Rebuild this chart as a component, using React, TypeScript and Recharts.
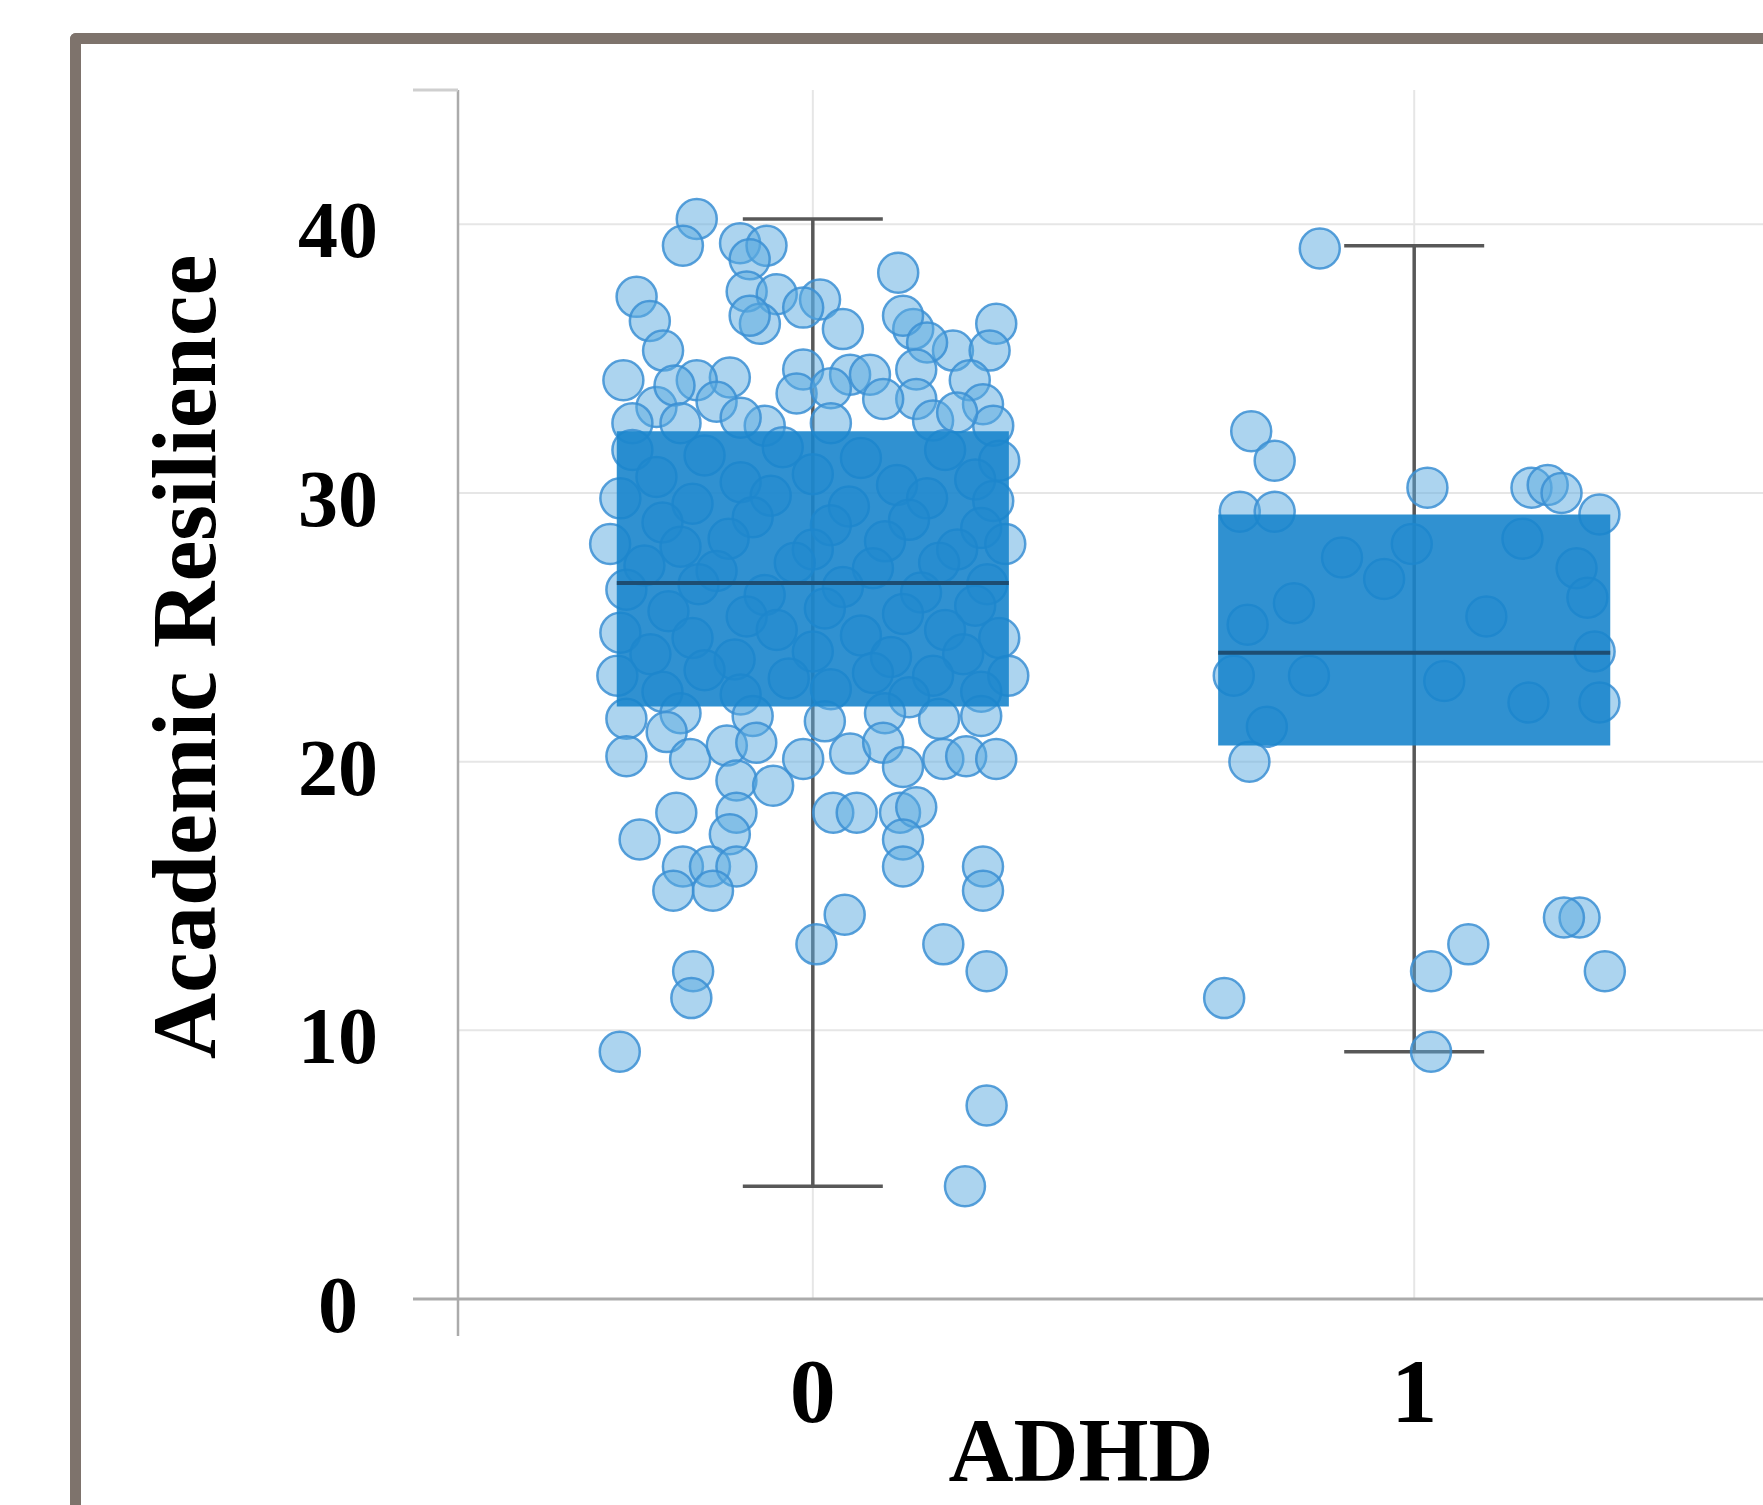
import { ComposedChart, Scatter, ErrorBar, XAxis, YAxis, CartesianGrid, Label, ReferenceArea } from "recharts";

// box statistics per ADHD group
const groups = [0, 1];
const q1 = [22.05, 20.6];
const median = [26.65, 24.05];
const q3 = [32.3, 29.2];
const whiskerLow = [4.2, 9.2];
const whiskerHigh = [40.2, 39.2];

const yTicks = [0, 10, 20, 30, 40, 45];
const xTicks = [-0.59, 0, 1];

// jittered points: [horizontal jitter, academic resilience]
const adhd0Upper = [
  [-0.193, 40.2], [-0.216, 39.2], [-0.121, 39.3], [-0.077, 39.2], [-0.105, 38.7], [0.142, 38.2],
  [-0.293, 37.3], [-0.11, 37.5], [-0.06, 37.4], [-0.088, 36.3], [-0.105, 36.6], [0.012, 37.2],
  [-0.016, 36.9], [0.05, 36.1], [-0.271, 36.4], [-0.249, 35.3], [0.167, 36.1], [0.15, 36.6],
  [0.305, 36.3], [0.233, 35.3], [0.294, 35.3], [0.19, 35.6], [-0.315, 34.2], [-0.138, 34.3],
  [-0.193, 34.2], [-0.016, 34.6], [0.062, 34.4], [0.095, 34.4], [0.172, 34.6], [0.261, 34.2],
  [-0.26, 33.2], [-0.16, 33.4], [-0.23, 34.0], [0.172, 33.5], [0.283, 33.3], [-0.027, 33.7],
  [0.117, 33.5], [0.03, 33.9], [-0.3, 32.6], [-0.22, 32.6], [-0.08, 32.5], [0.03, 32.6],
  [0.2, 32.7], [0.3, 32.5], [-0.12, 32.8], [0.24, 33.0],
];

const adhd0Inside = [
  [-0.3, 31.6], [-0.18, 31.4], [-0.05, 31.7], [0.08, 31.3], [0.22, 31.6], [0.31, 31.2],
  [-0.26, 30.6], [-0.12, 30.4], [0.0, 30.7], [0.14, 30.3], [0.27, 30.5],
  [-0.32, 29.8], [-0.2, 29.6], [-0.07, 29.9], [0.06, 29.5], [0.19, 29.8], [0.3, 29.7],
  [-0.25, 28.9], [-0.1, 29.1], [0.03, 28.8], [0.16, 29.0], [0.28, 28.7],
  [-0.337, 28.1], [-0.22, 28.0], [-0.14, 28.3], [0.0, 27.9], [0.12, 28.2], [0.24, 27.9], [0.32, 28.1],
  [-0.28, 27.3], [-0.16, 27.1], [-0.03, 27.4], [0.1, 27.2], [0.21, 27.4],
  [-0.31, 26.4], [-0.19, 26.6], [-0.08, 26.2], [0.05, 26.5], [0.18, 26.3], [0.29, 26.6],
  [-0.24, 25.6], [-0.11, 25.4], [0.02, 25.7], [0.15, 25.5], [0.27, 25.8],
  [-0.32, 24.8], [-0.2, 24.6], [-0.06, 24.9], [0.08, 24.7], [0.22, 24.9], [0.31, 24.6],
  [-0.27, 24.0], [-0.13, 23.8], [0.0, 24.1], [0.13, 23.9], [0.25, 24.0],
  [-0.325, 23.2], [-0.18, 23.4], [-0.04, 23.1], [0.1, 23.3], [0.2, 23.2], [0.325, 23.2],
  [-0.25, 22.6], [-0.12, 22.5], [0.03, 22.7], [0.16, 22.4], [0.28, 22.6],
];

const adhd0Lower = [
  [-0.31, 21.6], [-0.22, 21.8], [-0.1, 21.7], [0.02, 21.5], [0.12, 21.8], [0.21, 21.6], [0.28, 21.7],
  [-0.31, 20.2], [-0.243, 21.1], [-0.204, 20.1], [-0.143, 20.6], [-0.127, 19.3], [-0.066, 19.1],
  [-0.094, 20.7], [-0.016, 20.1], [0.062, 20.3], [0.117, 20.7], [0.217, 20.1], [0.255, 20.2],
  [0.305, 20.1], [0.15, 19.8], [-0.227, 18.1], [-0.288, 17.1], [-0.127, 18.1], [-0.138, 17.3],
  [-0.216, 16.1], [-0.171, 16.1], [-0.127, 16.1], [-0.232, 15.2], [-0.166, 15.2],
  [0.034, 18.1], [0.073, 18.1], [0.145, 18.1], [0.172, 18.3], [0.15, 17.1], [0.15, 16.1],
  [0.283, 16.1], [0.283, 15.2], [0.053, 14.3], [0.006, 13.2], [0.217, 13.2], [0.289, 12.2],
  [-0.199, 12.2], [-0.202, 11.2], [-0.321, 9.2], [0.289, 7.2], [0.253, 4.2],
];

const adhd1Points = [
  [-0.157, 39.1], [-0.271, 32.3], [-0.232, 31.2], [0.022, 30.2], [0.195, 30.2], [0.222, 30.3],
  [0.245, 30.0], [0.308, 29.2], [-0.29, 29.3], [-0.232, 29.3], [-0.004, 28.1], [0.18, 28.3],
  [-0.12, 27.6], [0.27, 27.2], [-0.05, 26.8], [0.288, 26.1], [-0.2, 25.9], [0.12, 25.4],
  [-0.277, 25.1], [0.3, 24.1], [-0.175, 23.2], [-0.3, 23.2], [0.05, 23.0], [0.19, 22.2],
  [0.308, 22.2], [-0.245, 21.3], [-0.274, 20.0], [0.275, 14.2], [0.249, 14.2], [0.09, 13.2],
  [0.028, 12.2], [0.317, 12.2], [-0.316, 11.2], [0.028, 9.2],
];

const boxData = groups.map((g, i) => ({
  x: g,
  y: median[i],
  err: [median[i] - whiskerLow[i], whiskerHigh[i] - median[i]],
}));

const points = [
  ...[...adhd0Upper, ...adhd0Inside, ...adhd0Lower].map(([dx, v]) => ({ x: groups[0] + dx, y: v })),
  ...adhd1Points.map(([dx, v]) => ({ x: groups[1] + dx, y: v })),
];

const W = 1763;
const H = 1505;
const X_DOMAIN = [-0.59, 1.58];
const Y_DOMAIN = [0, 45];
const PLOT = { top: 90, left: 458, bottom: 206 };
const BOX_HALF = 0.326; // half box width in axis units
const SERIF = '"Liberation Serif", "Times New Roman", serif';
const AXIS = "#ababab";

function YTick(props: any) {
  const { x, y, payload } = props;
  const v = payload.value;
  if (v === 45) return <line x1={x - 45} x2={x} y1={y} y2={y} stroke="#cfcfcf" strokeWidth={3} />;
  return (
    <g>
      {v === 0 && <line x1={x - 45} x2={x} y1={y} y2={y} stroke={AXIS} strokeWidth={3} />}
      <text x={x - 120} y={y + 33} textAnchor="middle" fontFamily={SERIF} fontSize={80} fontWeight="bold" fill="#000">
        {v}
      </text>
    </g>
  );
}

function XTick(props: any) {
  const { x, y, payload } = props;
  if (payload.value < 0) return <line x1={x} x2={x} y1={y} y2={y + 37} stroke={AXIS} strokeWidth={2.5} />;
  return (
    <text x={x} y={y + 123} textAnchor="middle" fontFamily={SERIF} fontSize={92} fontWeight="bold" fill="#000">
      {payload.value}
    </text>
  );
}

const Dot = (p: any) => (
  <circle cx={p.cx} cy={p.cy} r={20} fill="#5aa9e0" fillOpacity={0.5} stroke="#3b8fd3" strokeOpacity={0.85} strokeWidth={2.5} />
);

const MedianLine = (p: any) => (
  <line x1={p.cx - 196} x2={p.cx + 196} y1={p.cy} y2={p.cy} stroke="#1d4d72" strokeWidth={4} />
);

export default function App() {
  return (
    <div style={{ position: "absolute", left: 0, top: 0, width: W, height: H, overflow: "hidden", background: "#fff" }}>
      {/* frame, cut off at the right and bottom like the source */}
      <div
        style={{
          position: "absolute",
          left: 70,
          top: 33,
          width: 1800,
          height: 1600,
          borderTop: "11px solid #7e736c",
          borderLeft: "11px solid #7e736c",
          borderTopLeftRadius: 6,
        }}
      />
      {/* base layer: grid, axes, whiskers, jittered points */}
      <div style={{ position: "absolute", left: 0, top: 0 }}>
        <ComposedChart width={W} height={H} data={boxData} margin={{ top: PLOT.top, right: 0, bottom: 0, left: 0 }}>
          <CartesianGrid horizontalValues={[10, 20, 30, 40]} verticalValues={[0, 1]} stroke="#e6e6e6" strokeWidth={2} />
          <XAxis
            type="number"
            dataKey="x"
            domain={X_DOMAIN}
            ticks={xTicks}
            interval={0}
            height={PLOT.bottom}
            tickSize={0}
            tickMargin={0}
            tickLine={false}
            axisLine={{ stroke: AXIS, strokeWidth: 3 }}
            tick={<XTick />}
            allowDataOverflow
          >
            <Label
              content={() => (
                <text x={1081} y={1481} textAnchor="middle" fontFamily={SERIF} fontSize={90} fontWeight="bold" fill="#000">
                  ADHD
                </text>
              )}
            />
          </XAxis>
          <YAxis
            type="number"
            domain={Y_DOMAIN}
            ticks={yTicks}
            interval={0}
            width={PLOT.left}
            tickSize={0}
            tickMargin={0}
            tickLine={false}
            axisLine={{ stroke: AXIS, strokeWidth: 2.5 }}
            tick={<YTick />}
            allowDataOverflow
          >
            <Label
              content={() => (
                <text
                  x={215}
                  y={657}
                  transform="rotate(-90 215 657)"
                  textAnchor="middle"
                  fontFamily={SERIF}
                  fontSize={92}
                  fontWeight="bold"
                  fill="#000"
                >
                  Academic Resilience
                </text>
              )}
            />
          </YAxis>
          {/* whiskers */}
          <Scatter data={boxData} dataKey="y" shape={() => <g />} isAnimationActive={false}>
            <ErrorBar dataKey="err" direction="y" width={70} stroke="#585858" strokeWidth={3.5} />
          </Scatter>
          <Scatter data={points} dataKey="y" shape={Dot} isAnimationActive={false} />
        </ComposedChart>
      </div>
      {/* top layer: boxes and medians, same plot area, drawn over the points */}
      <div style={{ position: "absolute", left: 0, top: 0 }}>
        <ComposedChart
          width={W}
          height={H}
          data={boxData}
          margin={{ top: PLOT.top, right: 0, bottom: PLOT.bottom, left: PLOT.left }}
        >
          <XAxis type="number" dataKey="x" domain={X_DOMAIN} hide allowDataOverflow />
          <YAxis type="number" domain={Y_DOMAIN} hide allowDataOverflow />
          {groups.map((g, i) => (
            <ReferenceArea
              key={g}
              x1={g - BOX_HALF}
              x2={g + BOX_HALF}
              y1={q1[i]}
              y2={q3[i]}
              fill="#1a85cc"
              fillOpacity={0.9}
              stroke="none"
            />
          ))}
          <Scatter data={boxData} dataKey="y" shape={MedianLine} isAnimationActive={false} />
        </ComposedChart>
      </div>
    </div>
  );
}
